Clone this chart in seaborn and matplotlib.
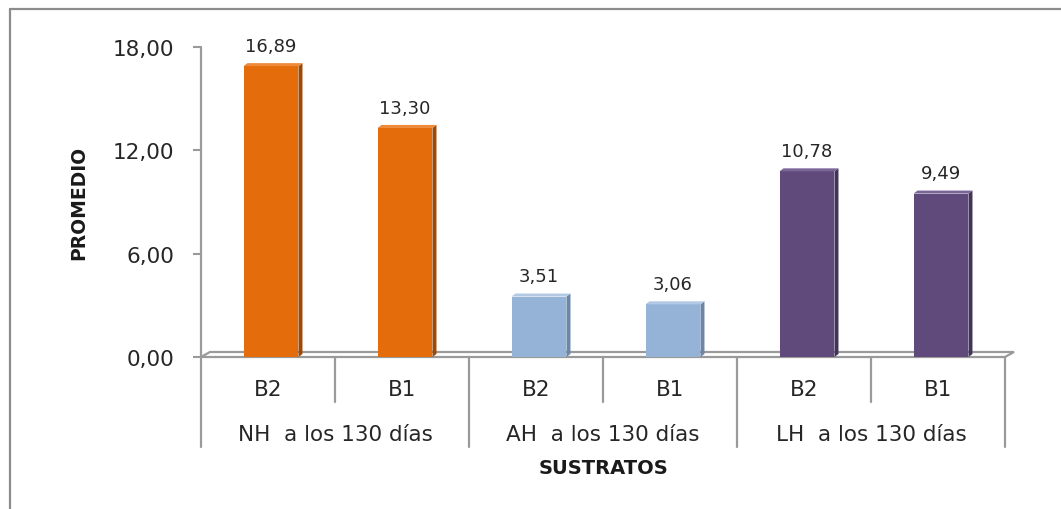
import matplotlib
matplotlib.use("Agg")
import matplotlib.pyplot as plt
from matplotlib.lines import Line2D
from matplotlib.patches import Polygon
import seaborn as sns
import pandas as pd

# ---- data -------------------------------------------------------------
groups = ["NH  a los 130 días", "AH  a los 130 días", "LH  a los 130 días"]
treatments = ["B2", "B1"]
nh_values = [16.89, 13.30]
ah_values = [3.51, 3.06]
lh_values = [10.78, 9.49]
y_ticks = [0, 6, 12, 18]

face_colors = {groups[0]: "#E46C0A", groups[1]: "#95B3D7", groups[2]: "#604A7B"}
side_colors = {groups[0]: "#9E4A06", groups[1]: "#6A86A8", groups[2]: "#43335A"}
top_colors = {groups[0]: "#EE8A3A", groups[1]: "#B3C9E3", groups[2]: "#7A6597"}

rows = []
for g, vals in zip(groups, [nh_values, ah_values, lh_values]):
    for t, v in zip(treatments, vals):
        rows.append({"key": f"{g}|{t}", "grupo": g, "trat": t, "valor": v})
df = pd.DataFrame(rows)

# ---- figure -----------------------------------------------------------
sns.set_theme(style="white")
plt.rcParams["font.family"] = ["DejaVu Sans"]

W, H = 1061, 510
fig = plt.figure(figsize=(W / 100, H / 100), dpi=100)
ax_left, ax_right, ax_top, ax_bot = 201, 1005, 48, 358
ax = fig.add_axes([ax_left / W, 1 - ax_bot / H,
                   (ax_right - ax_left) / W, (ax_bot - ax_top) / H])

sns.barplot(data=df, x="key", y="valor", hue="grupo", palette=face_colors,
            dodge=False, width=0.41, saturation=1, legend=False, ax=ax,
            zorder=3, linewidth=0)

ax.set_xlim(-0.5, 5.5)
ax.set_ylim(0, 18)
for s in ax.spines.values():
    s.set_visible(False)

px_x = 6 / (ax_right - ax_left)        # data units per pixel (x)
px_y = 18 / (ax_bot - ax_top)          # data units per pixel (y)
grey = "#9a9a9a"

# nudge bars slightly right, as in a 3D perspective view
for patch in ax.patches[:len(df)]:
    patch.set_x(patch.get_x() + 3 * px_x)

# floor of the 3D plot area
fdx, fdy = 9 * px_x, 5 * px_y
ax.add_patch(Polygon([(-0.5, 0), (5.5, 0), (5.5 + fdx, fdy), (-0.5 + fdx, fdy)],
                     closed=True, facecolor="white", edgecolor=grey,
                     lw=1.6, zorder=1, clip_on=False))

# bar side and top faces
sdx, sdy = 4 * px_x, 3 * px_y
for patch, (_, r) in zip(ax.patches[:len(df)], df.iterrows()):
    x0 = patch.get_x()
    x1 = x0 + patch.get_width()
    h = patch.get_height()
    g = r["grupo"]
    ax.add_patch(Polygon([(x1, 0), (x1, h), (x1 + sdx, h + sdy), (x1 + sdx, sdy)],
                         closed=True, facecolor=side_colors[g], lw=0,
                         zorder=3, clip_on=False))
    ax.add_patch(Polygon([(x0, h), (x1, h), (x1 + sdx, h + sdy), (x0 + sdx, h + sdy)],
                         closed=True, facecolor=top_colors[g], lw=0,
                         zorder=3, clip_on=False))
    ax.annotate(f"{h:.2f}".replace(".", ","), (x0 + patch.get_width() / 2, h),
                xytext=(0, 14.5), textcoords="offset points",
                ha="center", va="center", fontsize=13, color="#262626",
                annotation_clip=False)

# value axis
ax.set_yticks(y_ticks)
ax.set_yticklabels([f"{v:.2f}".replace(".", ",") for v in y_ticks],
                   fontsize=15.5, color="#262626")
ax.tick_params(axis="y", which="major", left=True, length=6, width=1.5,
               color=grey, pad=13)
ax.tick_params(axis="x", bottom=False, labelbottom=False)

trans_x = ax.get_xaxis_transform()
ax.add_line(Line2D([0, 0], [1, (ax_bot - 448) / (ax_bot - ax_top)],
                   transform=ax.transAxes, color=grey, lw=1.6, clip_on=False))

# category axis: separators and two-level labels
y_short = (ax_bot - 403) / (ax_bot - ax_top)
y_long = (ax_bot - 448) / (ax_bot - ax_top)
for k in range(1, 7):
    ax.add_line(Line2D([k - 0.5, k - 0.5], [0, y_long if k % 2 == 0 else y_short],
                       transform=trans_x, color=grey, lw=1.6, clip_on=False))

y_t = (ax_bot - 390) / (ax_bot - ax_top)
y_g = (ax_bot - 435) / (ax_bot - ax_top)
for i, (_, r) in enumerate(df.iterrows()):
    ax.text(i, y_t, r["trat"], transform=trans_x, ha="center", va="center",
            fontsize=15.5, color="#262626")
for j, g in enumerate(groups):
    ax.text(2 * j + 0.5, y_g, g, transform=trans_x, ha="center", va="center",
            fontsize=15.5, color="#262626")

ax.set_xlabel("SUSTRATOS", fontsize=14, fontweight="bold", color="#1a1a1a")
ax.xaxis.set_label_coords(0.5, (ax_bot - 469) / (ax_bot - ax_top))
ax.xaxis.label.set_va("center")
ax.set_ylabel("PROMEDIO", fontsize=13.5, fontweight="bold", color="#1a1a1a")
ax.yaxis.set_label_coords((79 - ax_left) / (ax_right - ax_left), 0.5)
ax.yaxis.label.set_va("center")

# chart frame
fig.add_artist(Line2D([10 / W, 1], [1 - 10 / H, 1 - 10 / H],
                      transform=fig.transFigure, color="#8c8c8c", lw=1.6))
fig.add_artist(Line2D([10 / W, 10 / W], [0, 1 - 10 / H],
                      transform=fig.transFigure, color="#8c8c8c", lw=1.6))

fig.savefig("out.png", dpi=100, facecolor="white")
